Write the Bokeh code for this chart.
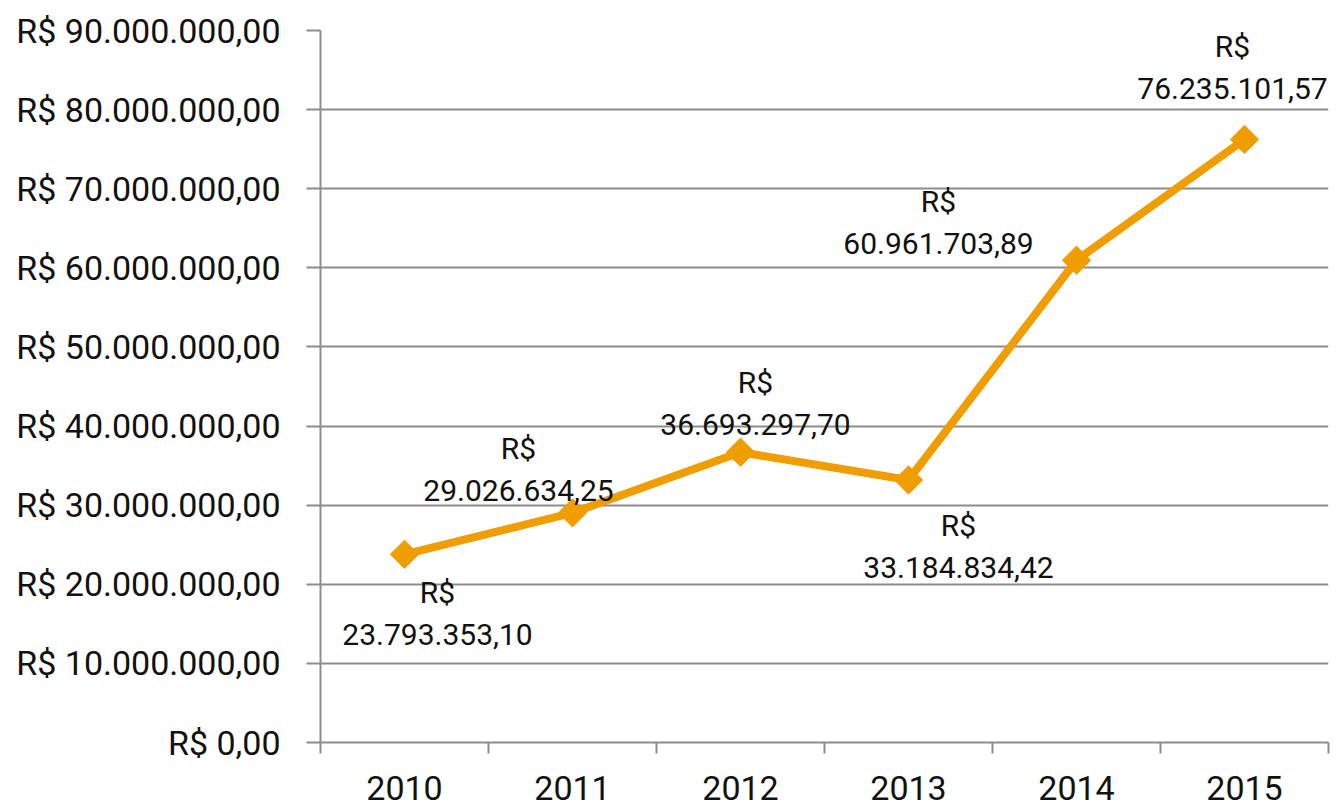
import numpy as np
from bokeh.plotting import figure
from bokeh.models import ColumnDataSource, FixedTicker, Range1d, LabelSet
from bokeh.core.properties import value
from bokeh.embed import file_html
from bokeh.resources import INLINE

years = ["2010", "2011", "2012", "2013", "2014", "2015"]
values = [23793353.10, 29026634.25, 36693297.70, 33184834.42, 60961703.89, 76235101.57]
y_ticks = [0, 10e6, 20e6, 30e6, 40e6, 50e6, 60e6, 70e6, 80e6, 90e6]

# label placement (screen offsets in px, relative to the point; positive = down)
lab_dx = [33, -54, 15, 50, -138, -12]
lab_dy = [38, -64, -70, 46, -59, -93]


def brl(v):
    s = f"{v:,.2f}"
    return s.replace(",", "X").replace(".", ",").replace("X", ".")


FONT = "Roboto"
ORANGE = "#EF9D00"
GRID = "#8C8C8C"

xs = [i + 0.5 for i in range(len(years))]
src = ColumnDataSource(dict(
    x=xs, y=values,
    top=["R$"] * len(values),
    num=[brl(v) for v in values],
    dx=lab_dx,
    dy1=[-d for d in lab_dy],
    dy2=[-(d + 42) for d in lab_dy],
))

p = figure(width=1341, height=806, output_backend="svg", toolbar_location=None,
           x_range=Range1d(0, len(years)), y_range=Range1d(0, 90e6))
p.min_border_left = 320
p.min_border_right = 13
p.min_border_top = 30
p.min_border_bottom = 64
p.outline_line_color = None
p.background_fill_color = "white"
p.border_fill_color = "white"

# x axis: labels at centres, tick marks at category boundaries
p.xaxis.ticker = FixedTicker(ticks=xs, minor_ticks=list(range(len(years) + 1)))
p.xaxis.major_label_overrides = {x: y for x, y in zip(xs, years)}
p.xaxis.major_tick_out = 0
p.xaxis.major_tick_in = 0
p.xaxis.minor_tick_out = 11
p.xaxis.minor_tick_in = 0
p.xaxis.minor_tick_line_color = GRID
p.xaxis.minor_tick_line_width = 2
p.xaxis.axis_line_color = GRID
p.xaxis.axis_line_width = 2
p.xaxis.major_label_text_font = FONT
p.xaxis.major_label_text_font_size = "34px"
p.xaxis.major_label_text_color = "#111111"
p.xaxis.major_label_standoff = 22
p.xgrid.grid_line_color = None

p.yaxis.ticker = FixedTicker(ticks=y_ticks, minor_ticks=[])
p.yaxis.major_label_overrides = {t: "R$ " + brl(t) for t in y_ticks}
p.yaxis.major_tick_out = 14
p.yaxis.major_tick_in = 0
p.yaxis.major_tick_line_color = GRID
p.yaxis.major_tick_line_width = 2
p.yaxis.axis_line_color = GRID
p.yaxis.axis_line_width = 2
p.yaxis.major_label_text_font = FONT
p.yaxis.major_label_text_font_size = "34px"
p.yaxis.major_label_text_color = "#111111"
p.yaxis.major_label_standoff = 26
p.ygrid.grid_line_color = GRID
p.ygrid.grid_line_width = 2

p.line("x", "y", source=src, line_color=ORANGE, line_width=8, line_join="round")
p.scatter("x", "y", source=src, marker="square", angle=np.pi / 4, size=20,
          fill_color=ORANGE, line_color=ORANGE)

for col, dycol in (("top", "dy1"), ("num", "dy2")):
    p.add_layout(LabelSet(x="x", y="y", text=col, source=src,
                          x_offset="dx", y_offset=dycol,
                          text_font=value(FONT), text_font_size="30px",
                          text_color="#111111", text_align="center",
                          text_baseline="middle"))

open("out.html", "w").write(file_html(p, INLINE))
